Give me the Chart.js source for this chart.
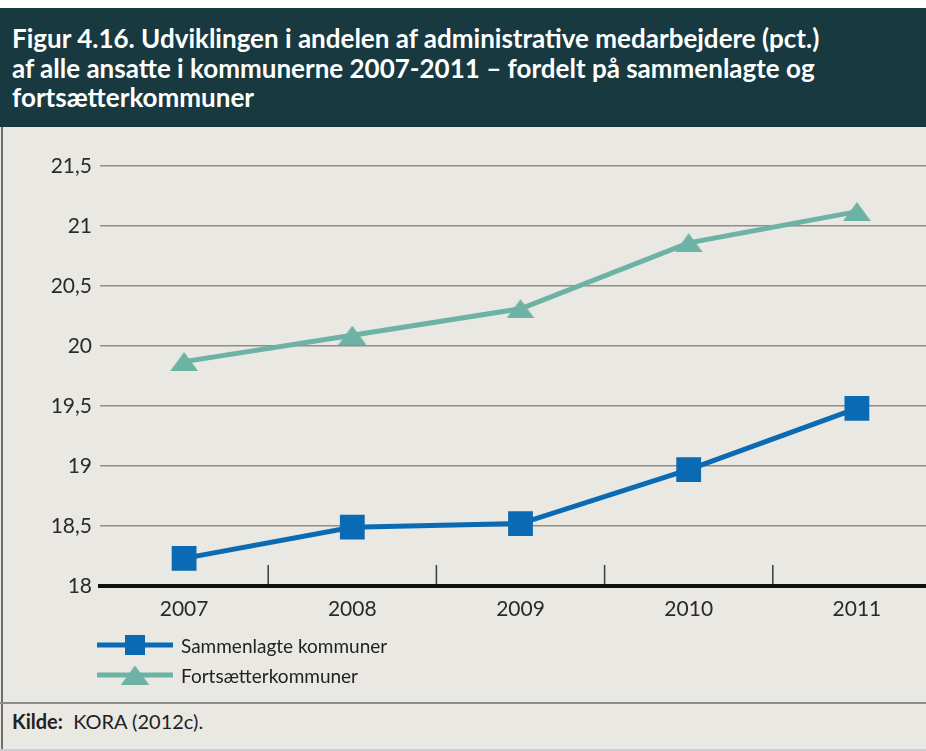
<!DOCTYPE html>
<html>
<head>
<meta charset="utf-8">
<script src="https://cdn.jsdelivr.net/npm/chart.js@4"></script>
<style>
html, body { margin: 0; padding: 0; background: #fff; overflow: hidden; }
#page { position: relative; width: 926px; height: 751px; overflow: hidden; background: #fff; }
#header { position: absolute; left: 0; top: 8px; width: 926px; height: 119px; background: #17393f; }
#title { position: absolute; left: 12px; top: 16px; color: #fff; font: bold 26px Lato, sans-serif; line-height: 29.5px; white-space: nowrap; }
#panel { position: absolute; left: 0; top: 127px; width: 926px; height: 624px; background: #e9e8e2; }
#leftline { position: absolute; left: 1px; top: 127px; width: 2px; height: 624px; background: #6e6e6c; }
#chartbox { position: absolute; left: 0; top: 127px; width: 941px; height: 493px; }
#legend { position: absolute; left: 97px; top: 630px; font: 19px Lato, sans-serif; color: #222; }
.item { display: flex; align-items: center; height: 30px; }
.item canvas { margin-right: 8px; }
#sep { position: absolute; left: 0; top: 702px; width: 926px; height: 2px; background: #8c8c8a; }
#source { position: absolute; left: 12px; top: 709px; font: 20px Lato, sans-serif; color: #222; white-space: pre; }
#bottom { position: absolute; left: 0; top: 749px; width: 926px; height: 2px; background: #c9ced2; }
</style>
</head>
<body>
<div id="page">
  <div id="header">
    <div id="title">Figur 4.16. Udviklingen i andelen af administrative medarbejdere (pct.)<br>af alle ansatte i kommunerne 2007-2011 – fordelt på sammenlagte og<br>fortsætterkommuner</div>
  </div>
  <div id="panel"></div>
  <div id="leftline"></div>
  <div id="chartbox"><canvas id="chart" width="941" height="493"></canvas></div>
  <div id="legend"></div>
  <div id="sep"></div>
  <div id="source"><b>Kilde:</b>  KORA (2012c).</div>
  <div id="bottom"></div>
</div>
<script>
const years = ['2007', '2008', '2009', '2010', '2011'];
const sammenlagte = [18.23, 18.49, 18.52, 18.97, 19.48];
const fortsaetter = [19.87, 20.09, 20.31, 20.86, 21.12];
const yTickLabels = ['18', '18,5', '19', '19,5', '20', '20,5', '21', '21,5'];
const seriesNames = ['Sammenlagte kommuner', 'Fortsætterkommuner'];

const blue = '#0a6ab3';
const teal = '#6cb2a5';

// flat triangle marker like the original
function triangleImage(color) {
    const c = document.createElement('canvas');
    c.width = 28; c.height = 19;
    const g = c.getContext('2d');
    g.fillStyle = color;
    g.beginPath();
    g.moveTo(14, 0); g.lineTo(28, 19); g.lineTo(0, 19);
    g.closePath();
    g.fill();
    return c;
}
const tri = triangleImage(teal);

// small tick marks between categories, drawn up from the axis
const betweenTicks = {
    id: 'betweenTicks',
    afterDatasetsDraw(chart) {
        const x = chart.scales.x, ctx = chart.ctx;
        const bottom = chart.chartArea.bottom;
        ctx.save();
        ctx.strokeStyle = '#3a3a3a';
        ctx.lineWidth = 1.5;
        for (let i = 1; i < years.length; i++) {
            const px = (x.getPixelForValue(i - 1) + x.getPixelForValue(i)) / 2;
            ctx.beginPath();
            ctx.moveTo(px, bottom - 21);
            ctx.lineTo(px, bottom);
            ctx.stroke();
        }
        ctx.restore();
    }
};

const datasets = [{
    label: seriesNames[0],
    data: sammenlagte,
    borderColor: blue,
    backgroundColor: blue,
    borderWidth: 5,
    pointStyle: 'rect',
    pointRadius: 14,
    pointHoverRadius: 14,
    tension: 0
}, {
    label: seriesNames[1],
    data: fortsaetter,
    borderColor: teal,
    backgroundColor: teal,
    borderWidth: 5,
    pointStyle: tri,
    pointRadius: 14,
    tension: 0
}];

Chart.defaults.font.family = 'Lato, sans-serif';

new Chart(document.getElementById('chart'), {
    type: 'line',
    data: { labels: years, datasets: datasets },
    options: {
        responsive: false,
        animation: false,
        layout: { autoPadding: false, padding: { top: 39, right: 0, left: 0, bottom: 0 } },
        scales: {
            x: {
                offset: true,
                grid: { display: false },
                border: { display: true, color: '#111', width: 4, z: 1 },
                ticks: { color: '#2a2a2a', font: { size: 21 }, padding: 3 },
                afterFit(scale) { scale.height = 34; }
            },
            y: {
                min: 18,
                max: 21.5,
                grid: { color: '#8f8d88', lineWidth: 1.5, drawTicks: false },
                border: { display: false },
                ticks: {
                    stepSize: 0.5,
                    color: '#2a2a2a',
                    font: { size: 21 },
                    padding: 8,
                    callback: (v, i) => yTickLabels[i]
                },
                afterFit(scale) { scale.width = 100; }
            }
        },
        plugins: {
            legend: { display: false },
            tooltip: { enabled: false }
        }
    },
    plugins: [betweenTicks]
});

// legend below the chart
const legend = document.getElementById('legend');
datasets.forEach(ds => {
    const item = document.createElement('div');
    item.className = 'item';
    const c = document.createElement('canvas');
    c.width = 76; c.height = 26;
    const g = c.getContext('2d');
    g.strokeStyle = ds.borderColor;
    g.lineWidth = 5;
    g.beginPath(); g.moveTo(0, 13); g.lineTo(76, 13); g.stroke();
    g.fillStyle = ds.borderColor;
    if (ds.pointStyle === 'rect') {
        g.fillRect(38 - 10, 13 - 10, 20, 20);
    } else {
        g.drawImage(ds.pointStyle, 38 - 14, 13 - 9.5);
    }
    const span = document.createElement('span');
    span.textContent = ds.label;
    item.appendChild(c);
    item.appendChild(span);
    legend.appendChild(item);
});
</script>
</body>
</html>
